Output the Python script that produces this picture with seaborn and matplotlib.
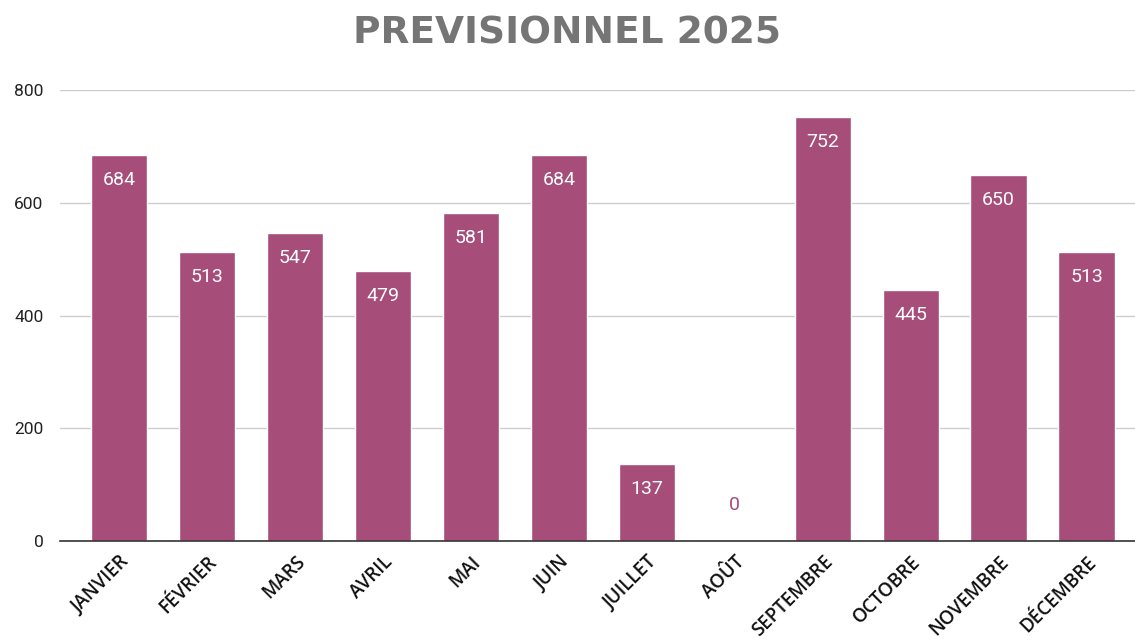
import matplotlib
matplotlib.use("Agg")
import matplotlib.pyplot as plt
import seaborn as sns
import pandas as pd

# --- Données ---
mois = ["JANVIER", "FÉVRIER", "MARS", "AVRIL", "MAI", "JUIN", "JUILLET",
        "AOÛT", "SEPTEMBRE", "OCTOBRE", "NOVEMBRE", "DÉCEMBRE"]
valeurs = [684, 513, 547, 479, 581, 684, 137, 0, 752, 445, 650, 513]
y_ticks = [0, 200, 400, 600, 800]

couleur = "#A64D79"

sns.set_theme(style="white")
plt.rcParams['font.family'] = ['Roboto', 'DejaVu Sans']

df = pd.DataFrame({"mois": mois, "valeur": valeurs})

fig = plt.figure(figsize=(11.35, 6.42), dpi=100)
ax = fig.add_axes([60 / 1135, 101 / 642, 1075 / 1135, 451 / 642])

sns.barplot(data=df, x="mois", y="valeur", color=couleur, saturation=1,
            width=0.64, ax=ax, zorder=3)

ax.set_ylim(0, 800)
ax.set_xlim(-0.67, 11.55)
ax.set_yticks(y_ticks)
ax.set_yticklabels([str(t) for t in y_ticks], fontsize=12.5, color="#222222")
ax.yaxis.grid(True, color="#cccccc", linewidth=1, zorder=0)
ax.tick_params(axis="y", length=0, pad=12)
ax.tick_params(axis="x", length=0, pad=8)
for lab in ax.get_xticklabels():
    lab.set_rotation(45)
    lab.set_ha("right")
    lab.set_rotation_mode("anchor")
    lab.set_fontsize(13.5)
    lab.set_fontweight("semibold")
    lab.set_family(["Open Sans", "DejaVu Sans"])
    lab.set_color("#111111")

for s in ["top", "right", "left"]:
    ax.spines[s].set_visible(False)
ax.spines["bottom"].set_color("#333333")
ax.spines["bottom"].set_linewidth(1.2)
ax.spines["bottom"].set_zorder(4)
ax.set_xlabel("")
ax.set_ylabel("")

# --- Étiquettes de valeur ---
for p, v in zip(ax.patches, valeurs):
    x = p.get_x() + p.get_width() / 2
    if v > 0:
        ax.annotate(f"{v}", (x, p.get_height()), xytext=(0, -25),
                    textcoords="offset pixels", ha="center", va="center",
                    color="white", fontsize=14, zorder=5)
    else:
        ax.annotate(f"{v}", (x, 0), xytext=(0, 36),
                    textcoords="offset pixels", ha="center", va="center",
                    color=couleur, fontsize=14, zorder=5)

fig.text(567 / 1135, 1 - 34 / 642, "PREVISIONNEL 2025", ha="center", va="center",
         fontsize=27, fontweight="heavy", color="#757575",
         family=["DejaVu Sans"])

plt.savefig("out.png", dpi=100)
